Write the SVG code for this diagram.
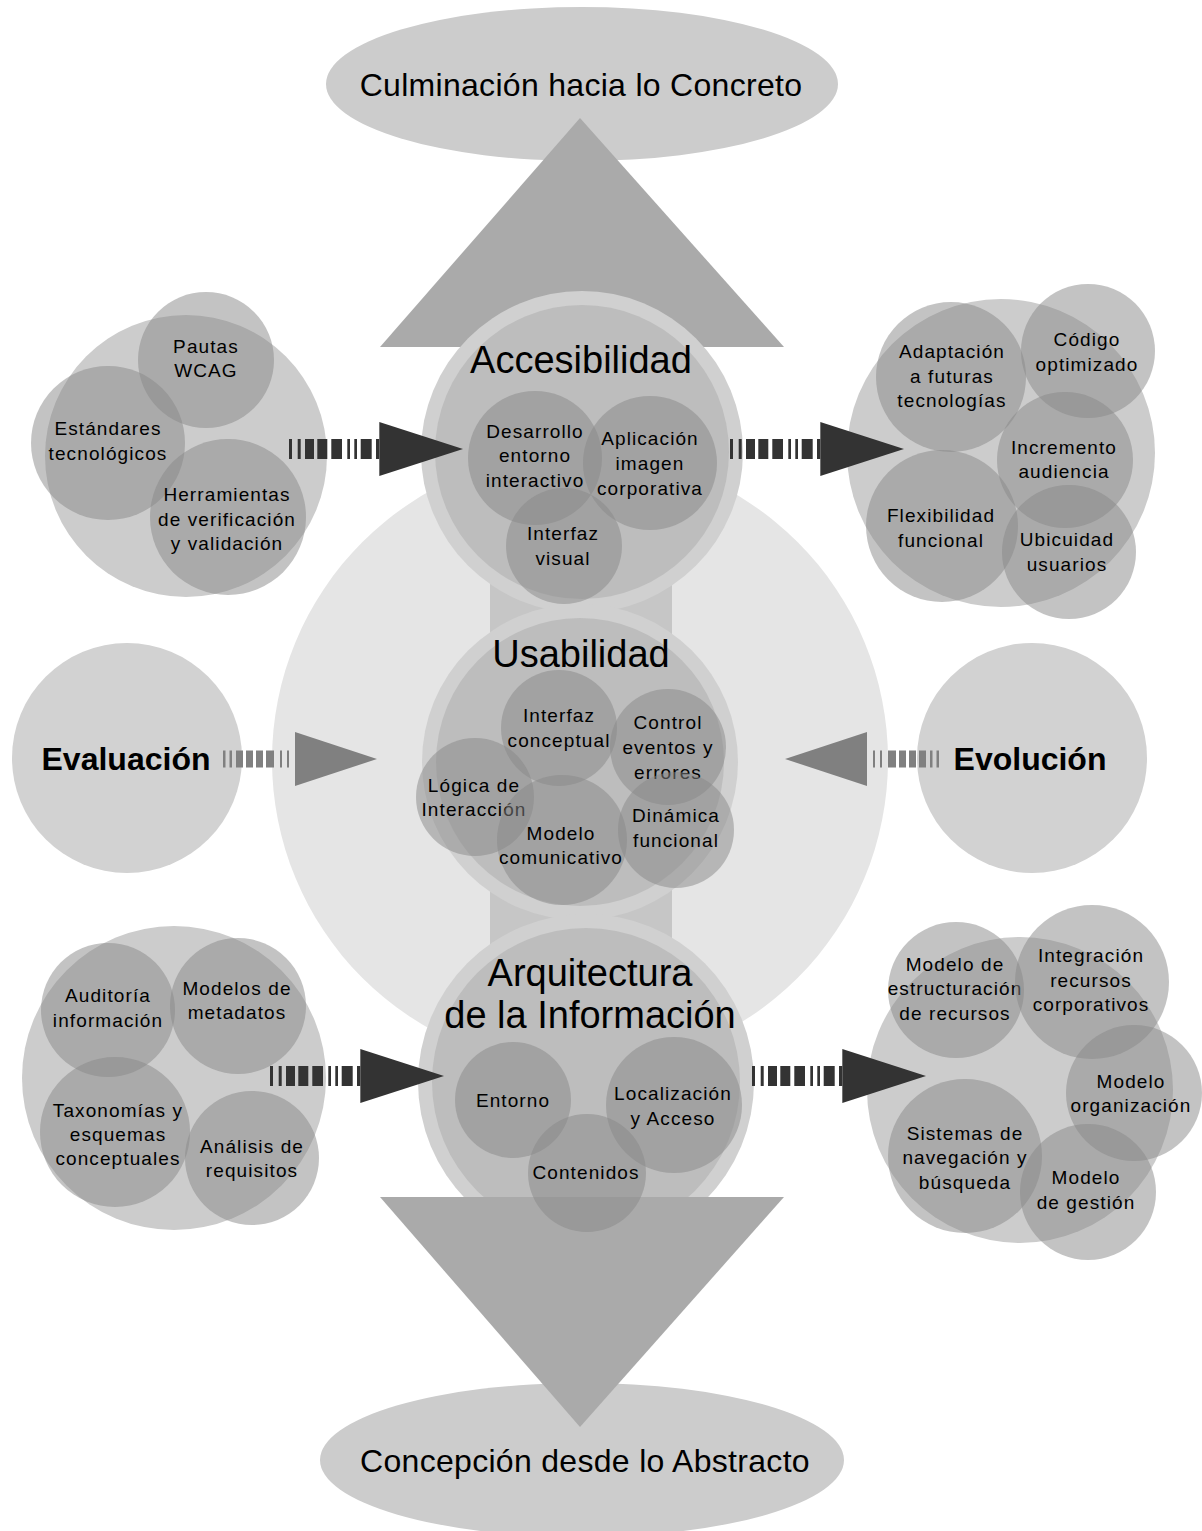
<svg xmlns="http://www.w3.org/2000/svg" width="1202" height="1531" viewBox="0 0 1202 1531">
<style>
.t{font-family:"Liberation Sans",Arial,sans-serif;fill:#000;text-anchor:middle}
.s{font-size:19px;letter-spacing:1.1px}
.h{font-size:38px}
.e{font-size:32px;letter-spacing:0.3px}
.b{font-size:32px;font-weight:bold}
.sub{fill:#888;fill-opacity:0.5}
.cl{fill:#cccccc}
.ring{fill:#d0d0d0}
.core{fill:#bdbdbd}
.tri{fill:#aaaaaa}
.dk{fill:#333333}
.gy{fill:#808080}
</style>
<defs>
<g id="arrDark">
<rect x="0" y="-10" width="3" height="20"/><rect x="8.7" y="-10" width="3" height="20"/><rect x="16" y="-10" width="9" height="20"/><rect x="28.3" y="-10" width="10" height="20"/><rect x="42.3" y="-10" width="10.7" height="20"/><rect x="58.3" y="-10" width="2.7" height="20"/><rect x="65.3" y="-10" width="2.7" height="20"/><rect x="71.7" y="-10" width="11" height="20"/><rect x="87" y="-10" width="3.3" height="20"/>
<polygon points="90.3,-27 174,0 90.3,27"/>
</g>
<g id="arrGray">
<rect x="0" y="-8.5" width="2.5" height="17"/><rect x="6.5" y="-8.5" width="2.5" height="17"/><rect x="13" y="-8.5" width="7" height="17"/><rect x="23" y="-8.5" width="7" height="17"/><rect x="33" y="-8.5" width="7" height="17"/><rect x="43" y="-8.5" width="8" height="17"/><rect x="57" y="-8.5" width="2" height="17"/><rect x="64" y="-8.5" width="2" height="17"/>
<polygon points="72,-27 154,0 72,27"/>
</g>
</defs>

<g id="ends">
<ellipse cx="582" cy="84" rx="256" ry="77" fill="#cccccc"/>
<ellipse cx="582" cy="1460" rx="262" ry="77" fill="#cccccc"/>
</g>

<g id="center-field">
<circle cx="580" cy="760" r="308" fill="#e5e5e5"/>
</g>

<g id="evaluacion">
<circle cx="127" cy="758" r="115" fill="#d2d2d2"/>
<text class="t b" x="126" y="770">Evaluación</text>
</g>
<g id="evolucion">
<circle cx="1032" cy="758" r="115" fill="#d2d2d2"/>
<text class="t b" x="1030" y="770">Evolución</text>
</g>

<g id="axis">
<rect x="490" y="340" width="182" height="870" fill="#c6c6c6"/>
<polygon class="tri" points="380,347 580,118 784,347"/>
</g>

<g id="accesibilidad">
<circle class="ring" cx="582" cy="452" r="161"/>
<circle class="core" cx="582" cy="452" r="147"/>
<text class="t h" x="581" y="373">Accesibilidad</text>
<g id="acc-desarrollo"><circle class="sub" cx="535" cy="458" r="67"/><text class="t s" x="535" y="438">Desarrollo</text><text class="t s" x="535" y="462">entorno</text><text class="t s" x="535" y="487">interactivo</text></g>
<g id="acc-aplicacion"><circle class="sub" cx="650" cy="463" r="67"/><text class="t s" x="650" y="445">Aplicación</text><text class="t s" x="650" y="470">imagen</text><text class="t s" x="650" y="495">corporativa</text></g>
<g id="acc-interfaz"><circle class="sub" cx="564" cy="546" r="58"/><text class="t s" x="563" y="540">Interfaz</text><text class="t s" x="563" y="565">visual</text></g>
</g>

<g id="usabilidad">
<circle class="ring" cx="580" cy="762" r="158"/>
<circle class="core" cx="580" cy="762" r="144"/>
<text class="t h" x="581" y="667">Usabilidad</text>
<g id="usa-interfaz"><circle class="sub" cx="559" cy="728" r="58"/><text class="t s" x="559" y="722">Interfaz</text><text class="t s" x="559" y="747">conceptual</text></g>
<g id="usa-control"><circle class="sub" cx="668" cy="747" r="58"/><text class="t s" x="668" y="729">Control</text><text class="t s" x="668" y="754">eventos y</text><text class="t s" x="668" y="779">errores</text></g>
<g id="usa-logica"><circle class="sub" cx="475" cy="797" r="59"/><text class="t s" x="474" y="792">Lógica de</text><text class="t s" x="474" y="816">Interacción</text></g>
<g id="usa-modelo"><circle class="sub" cx="562" cy="840" r="65"/><text class="t s" x="561" y="840">Modelo</text><text class="t s" x="561" y="864">comunicativo</text></g>
<g id="usa-dinamica"><circle class="sub" cx="676" cy="830" r="58"/><text class="t s" x="676" y="822">Dinámica</text><text class="t s" x="676" y="847">funcional</text></g>
</g>

<g id="arquitectura">
<circle class="ring" cx="586" cy="1082" r="168"/>
<circle class="core" cx="586" cy="1082" r="154"/>
<polygon class="tri" points="380,1197 784,1197 580,1427"/>
<text class="t h" x="590" y="986">Arquitectura</text>
<text class="t h" x="590" y="1028">de la Información</text>
<g id="arq-entorno"><circle class="sub" cx="513" cy="1100" r="58"/><text class="t s" x="513" y="1107">Entorno</text></g>
<g id="arq-localizacion"><circle class="sub" cx="674" cy="1105" r="68"/><text class="t s" x="673" y="1100">Localización</text><text class="t s" x="673" y="1125">y Acceso</text></g>
<g id="arq-contenidos"><circle class="sub" cx="587" cy="1173" r="59"/><text class="t s" x="586" y="1179">Contenidos</text></g>
</g>

<g id="cluster-acc-in">
<circle class="cl" cx="186" cy="456" r="141"/>
<g id="n-pautas"><circle class="sub" cx="206" cy="360" r="68"/><text class="t s" x="206" y="353">Pautas</text><text class="t s" x="206" y="377">WCAG</text></g>
<g id="n-estandares"><circle class="sub" cx="108" cy="443" r="77"/><text class="t s" x="108" y="435">Estándares</text><text class="t s" x="108" y="460">tecnológicos</text></g>
<g id="n-herramientas"><circle class="sub" cx="228" cy="517" r="78"/><text class="t s" x="227" y="501">Herramientas</text><text class="t s" x="227" y="526">de verificación</text><text class="t s" x="227" y="550">y validación</text></g>
</g>

<g id="cluster-acc-out">
<circle class="cl" cx="1001" cy="453" r="154"/>
<g id="n-adaptacion"><circle class="sub" cx="951" cy="377" r="75"/><text class="t s" x="952" y="358">Adaptación</text><text class="t s" x="952" y="383">a futuras</text><text class="t s" x="952" y="407">tecnologías</text></g>
<g id="n-codigo"><circle class="sub" cx="1088" cy="351" r="67"/><text class="t s" x="1087" y="346">Código</text><text class="t s" x="1087" y="371">optimizado</text></g>
<g id="n-incremento"><circle class="sub" cx="1065" cy="460" r="68"/><text class="t s" x="1064" y="454">Incremento</text><text class="t s" x="1064" y="478">audiencia</text></g>
<g id="n-flexibilidad"><circle class="sub" cx="942" cy="526" r="76"/><text class="t s" x="941" y="522">Flexibilidad</text><text class="t s" x="941" y="547">funcional</text></g>
<g id="n-ubicuidad"><circle class="sub" cx="1069" cy="552" r="67"/><text class="t s" x="1067" y="546">Ubicuidad</text><text class="t s" x="1067" y="571">usuarios</text></g>
</g>

<g id="cluster-arq-in">
<circle class="cl" cx="174" cy="1078" r="152"/>
<g id="n-auditoria"><circle class="sub" cx="108" cy="1010" r="67"/><text class="t s" x="108" y="1002">Auditoría</text><text class="t s" x="108" y="1027">información</text></g>
<g id="n-metadatos"><circle class="sub" cx="238" cy="1006" r="68"/><text class="t s" x="237" y="995">Modelos de</text><text class="t s" x="237" y="1019">metadatos</text></g>
<g id="n-taxonomias"><circle class="sub" cx="115" cy="1132" r="75"/><text class="t s" x="118" y="1117">Taxonomías y</text><text class="t s" x="118" y="1141">esquemas</text><text class="t s" x="118" y="1165">conceptuales</text></g>
<g id="n-analisis"><circle class="sub" cx="252" cy="1158" r="67"/><text class="t s" x="252" y="1153">Análisis de</text><text class="t s" x="252" y="1177">requisitos</text></g>
</g>

<g id="cluster-arq-out">
<circle class="cl" cx="1020" cy="1090" r="153"/>
<g id="n-estructuracion"><circle class="sub" cx="956" cy="990" r="68"/><text class="t s" x="955" y="971">Modelo de</text><text class="t s" x="955" y="995">estructuración</text><text class="t s" x="955" y="1020">de recursos</text></g>
<g id="n-integracion"><circle class="sub" cx="1092" cy="982" r="77"/><text class="t s" x="1091" y="962">Integración</text><text class="t s" x="1091" y="987">recursos</text><text class="t s" x="1091" y="1011">corporativos</text></g>
<g id="n-organizacion"><circle class="sub" cx="1134" cy="1093" r="68"/><text class="t s" x="1131" y="1088">Modelo</text><text class="t s" x="1131" y="1112">organización</text></g>
<g id="n-sistemas"><circle class="sub" cx="965" cy="1156" r="77"/><text class="t s" x="965" y="1140">Sistemas de</text><text class="t s" x="965" y="1164">navegación y</text><text class="t s" x="965" y="1189">búsqueda</text></g>
<g id="n-gestion"><circle class="sub" cx="1088" cy="1192" r="68"/><text class="t s" x="1086" y="1184">Modelo</text><text class="t s" x="1086" y="1209">de gestión</text></g>
</g>

<g id="end-labels">
<text class="t e" x="581" y="96">Culminación hacia lo Concreto</text>
<text class="t e" x="585" y="1472">Concepción desde lo Abstracto</text>
</g>

<g id="connectors">
<use href="#arrDark" class="dk" transform="translate(289,449)"/>
<use href="#arrDark" class="dk" transform="translate(730,449)"/>
<use href="#arrDark" class="dk" transform="translate(270,1076)"/>
<use href="#arrDark" class="dk" transform="translate(752,1076)"/>
<use href="#arrGray" class="gy" transform="translate(223,759)"/>
<use href="#arrGray" class="gy" transform="translate(939,759) scale(-1,1)"/>
</g>
</svg>
